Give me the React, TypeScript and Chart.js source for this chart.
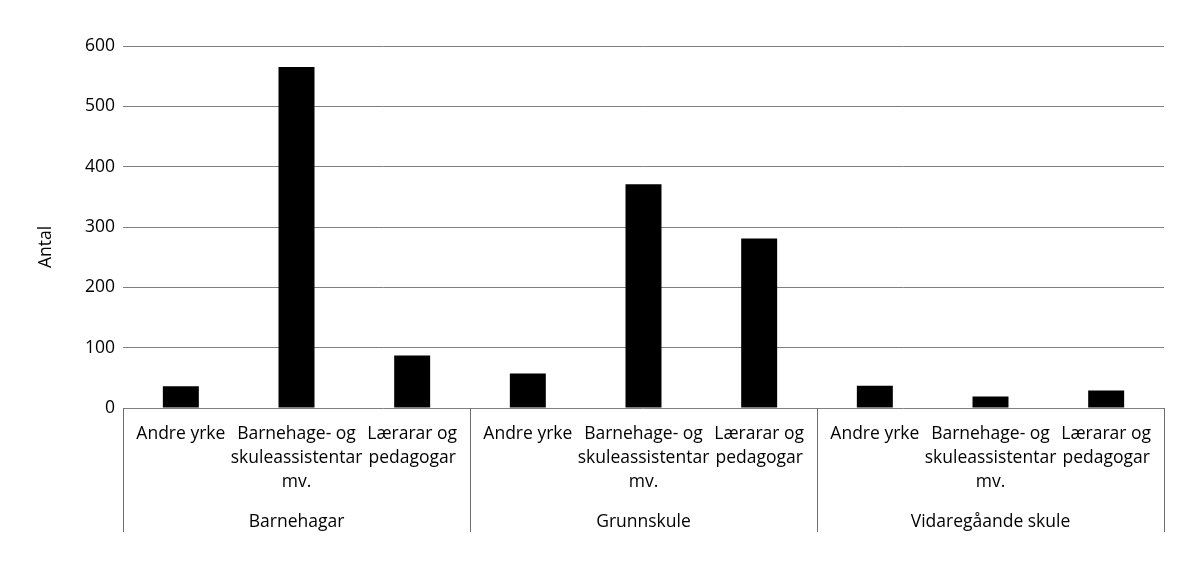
import React, { useEffect, useRef } from "react";
import { Chart, registerables } from "chart.js";

Chart.register(...registerables);

const groups = ["Barnehagar", "Grunnskule", "Vidaregåande skule"];
const occupations: string[][] = [
  ["Andre yrke"],
  ["Barnehage- og", "skuleassistentar", "mv."],
  ["Lærarar og", "pedagogar"],
];
const barnehagar = [36, 565, 87];
const grunnskule = [57, 371, 281];
const vidaregaande = [37, 19, 29];
const yMin = 0;
const yMax = 600;
const yStep = 100;
const yTitle = "Antal";

const FONT = "'Open Sans', sans-serif";
const TEXT = "#000000";
const FSIZE = 17.5;

export default function App() {
  const ref = useRef<HTMLCanvasElement | null>(null);

  useEffect(() => {
    if (!ref.current) return;
    const labels: string[][] = [];
    groups.forEach(() => occupations.forEach((o) => labels.push(o)));
    const values = [...barnehagar, ...grunnskule, ...vidaregaande];

    const decor = {
      id: "decor",
      afterDraw(chart: any) {
        const ctx = chart.ctx;
        const area = chart.chartArea;
        const g = chart.scales.group;
        ctx.save();
        ctx.strokeStyle = "#6e6e6e";
        ctx.lineWidth = 1;
        const xs: number[] = [g.left];
        for (let i = 0; i < groups.length - 1; i++) {
          xs.push((g.getPixelForValue(i) + g.getPixelForValue(i + 1)) / 2);
        }
        xs.push(g.right);
        const yEnd = g.top + 24;
        xs.forEach((x) => {
          const px = Math.round(x) + 0.5;
          ctx.beginPath();
          ctx.moveTo(px, area.bottom);
          ctx.lineTo(px, yEnd);
          ctx.stroke();
        });
        // y axis title
        ctx.fillStyle = TEXT;
        ctx.font = `${FSIZE}px ${FONT}`;
        ctx.textAlign = "center";
        ctx.textBaseline = "middle";
        ctx.translate(area.left - 77, (area.top + area.bottom) / 2 + 20);
        ctx.rotate(-Math.PI / 2);
        ctx.fillText(yTitle, 0, 0);
        ctx.restore();
      },
    };

    const chart = new Chart(ref.current, {
      type: "bar",
      data: {
        labels,
        datasets: [
          {
            data: values,
            backgroundColor: "#000000",
            borderWidth: 0,
            barPercentage: 1,
            categoryPercentage: 0.311,
          },
        ],
      },
      options: {
        animation: false,
        responsive: true,
        maintainAspectRatio: false,
        layout: { padding: { left: 0, right: 34, top: 46, bottom: 20 } },
        plugins: { legend: { display: false }, tooltip: { enabled: false } },
        scales: {
          x: {
            type: "category",
            position: "bottom",
            weight: 0,
            grid: { display: false, drawTicks: false },
            border: { display: false },
            ticks: {
              color: TEXT,
              font: { family: FONT, size: FSIZE, lineHeight: 24 / FSIZE },
              padding: 14,
              maxRotation: 0,
              minRotation: 0,
              autoSkip: false,
            },
            afterFit: (s: any) => {
              s.height = 100;
            },
          },
          group: {
            type: "category",
            position: "bottom",
            weight: 1,
            labels: groups,
            offset: true,
            grid: { display: false, drawTicks: false },
            border: { display: false },
            ticks: {
              color: TEXT,
              font: { family: FONT, size: FSIZE, lineHeight: 24 / FSIZE },
              padding: 2,
              maxRotation: 0,
              minRotation: 0,
              autoSkip: false,
            },
            afterFit: (s: any) => {
              s.height = 40;
            },
          },
          y: {
            min: yMin,
            max: yMax,
            grid: { color: "#808080", lineWidth: 1, drawTicks: false },
            border: { display: false },
            ticks: {
              stepSize: yStep,
              color: TEXT,
              font: { family: FONT, size: FSIZE },
              padding: 8,
            },
            afterFit: (s: any) => {
              s.width = 123;
            },
          },
        },
      },
      plugins: [decor],
    });
    return () => chart.destroy();
  }, []);

  return (
    <div style={{ position: "absolute", left: 0, top: 0, width: 1198, height: 568, background: "#fff" }}>
      <canvas ref={ref} />
    </div>
  );
}
